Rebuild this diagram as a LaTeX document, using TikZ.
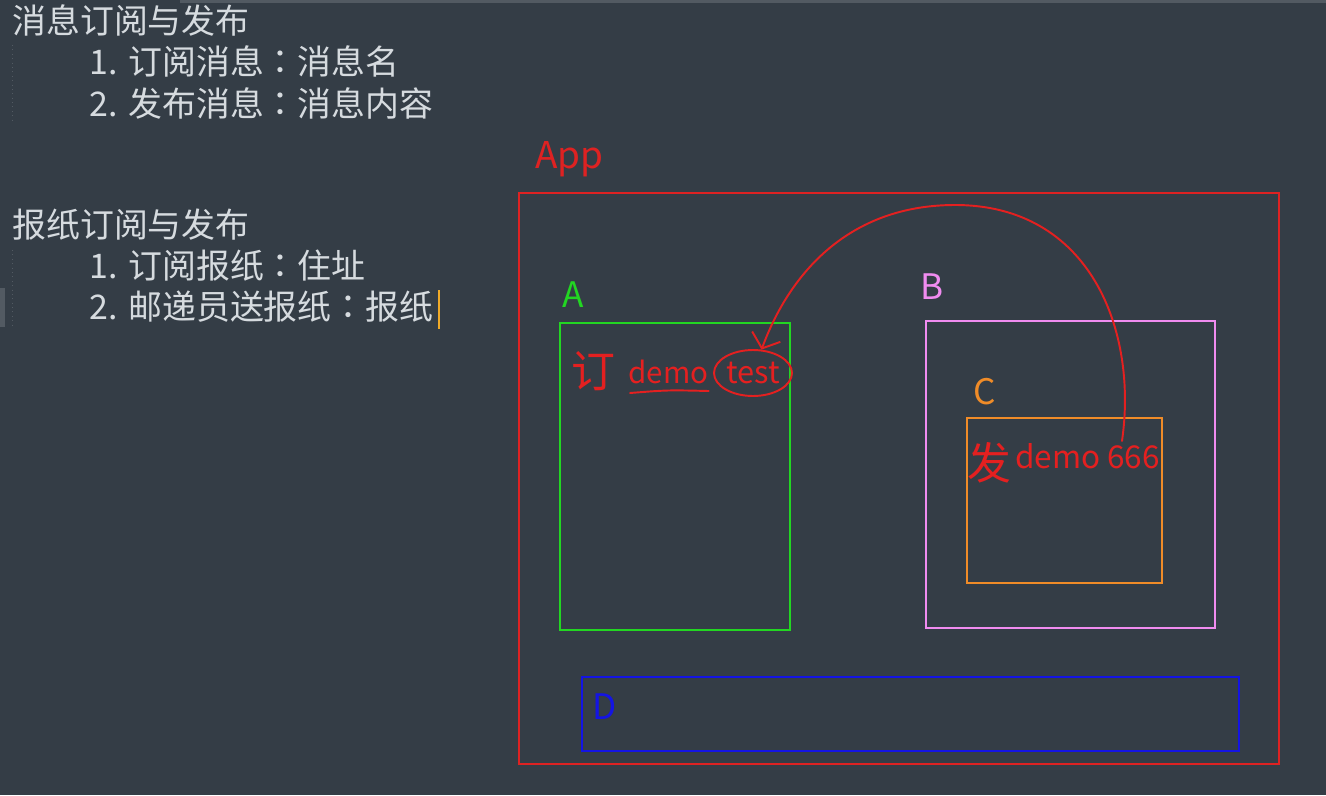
\documentclass[tikz,border=0pt]{standalone}
\usepackage{fontspec}
\setmainfont{Noto Sans CJK SC}
\newfontfamily\jpfont{Noto Sans CJK JP}
\usetikzlibrary{arrows.meta, positioning, shapes.geometric, calc}
\definecolor{bgslate}{RGB}{52,61,70}
\definecolor{notegray}{RGB}{214,219,223}
\definecolor{guidegray}{RGB}{82,90,98}
\definecolor{penred}{RGB}{228,32,32}
\definecolor{boxred}{RGB}{222,34,34}
\definecolor{boxgreen}{RGB}{34,214,34}
\definecolor{boxpink}{RGB}{240,140,240}
\definecolor{boxorange}{RGB}{240,140,40}
\definecolor{boxblue}{RGB}{20,20,228}
\definecolor{cursororange}{RGB}{240,170,40}
\newcommand{\colonmark}{{\jpfont ：}}

\begin{document}
\begin{tikzpicture}[
    x=0.02cm, y=-0.02cm,
    note/.style={anchor=base west, inner sep=0, text=notegray, font=\fontsize{19.3}{23}\selectfont},
    boxlabel/.style={anchor=base west, inner sep=0, font=\fontsize{20}{24}\selectfont},
    frame/.style={line width=1.2pt},
    pen/.style={draw=penred, line width=1.1pt, line cap=round},
    ink/.style={anchor=base west, inner sep=0, text=penred}
]
% Background
\fill[bgslate] (0,0) rectangle (1326,795);
\useasboundingbox (0,0) rectangle (1326,795);
\fill[guidegray] (180,0) rectangle (1326,3);
\fill[guidegray] (0,288) rectangle (5,327);
\draw[guidegray, dotted, line width=0.5pt] (12,45) -- (12,122);
\draw[guidegray, dotted, line width=0.5pt] (12,250) -- (12,328);

% Notes on the left
\node[note] (title1) at (12,33) {消息订阅与发布};
\node[note] (item1) at (89,74) {\makebox[0.78cm][l]{1.}订阅消息\colonmark 消息名};
\node[note] (item2) at (89,116) {\makebox[0.78cm][l]{2.}发布消息\colonmark 消息内容};
\node[note] (title2) at (12,237) {报纸订阅与发布};
\node[note] (item3) at (89,278) {\makebox[0.78cm][l]{1.}订阅报纸\colonmark 住址};
\node[note] (item4) at (89,319) {\makebox[0.78cm][l]{2.}邮递员送报纸\colonmark 报纸};
\draw[cursororange, line width=1pt] (439,290) -- (439,329);

% Boxes
\node[boxlabel, text=boxred, font=\fontsize{21}{25}\selectfont] (app) at (535,168) {App};
\draw[frame, boxred] (519,193) rectangle (1279,764);

\node[boxlabel, text=boxgreen] (labA) at (562,307) {A};
\draw[frame, boxgreen] (560,323) rectangle (790,630);

\node[boxlabel, text=boxpink] (labB) at (920,299) {B};
\draw[frame, boxpink] (926,321) rectangle (1215,628);

\node[boxlabel, text=boxorange] (labC) at (973,404) {C};
\draw[frame, boxorange] (967,418) rectangle (1162,583);

\node[boxlabel, text=boxblue] (labD) at (592,719) {D};
\draw[frame, boxblue] (582,677) rectangle (1239,751);

% Red handwriting
\node[ink, font=\fontsize{25}{28}\selectfont] (sub) at (571,387) {订};
\node[ink, font=\fontsize{16.8}{20}\selectfont] (demoA) at (628,383) {demo};
\draw[pen] ($(demoA.base west)+(2,10)$) .. controls ($(demoA.base west)+(40,7)$) .. ($(demoA.base east)+(0,8)$);
\node[ellipse, pen, inner sep=0, minimum width=1.56cm, minimum height=0.92cm,
      text=penred, font=\fontsize{17.5}{21}\selectfont] (test) at (753,373) {test};

\node[ink, font=\fontsize{25}{28}\selectfont] (pubsign) at (967,479) {发};
\node[ink, font=\fontsize{17.9}{22}\selectfont] (demoC) at (1015,468) {demo 666};

\coordinate (src) at (1122,441);
\draw[pen, -{Straight Barb[length=2.5mm, width=6mm]}]
    (src) .. controls (1138,330) and (1090,205) .. (955,205)
          .. controls (850,205) and (790,272) .. (test.70);
\end{tikzpicture}
\end{document}
